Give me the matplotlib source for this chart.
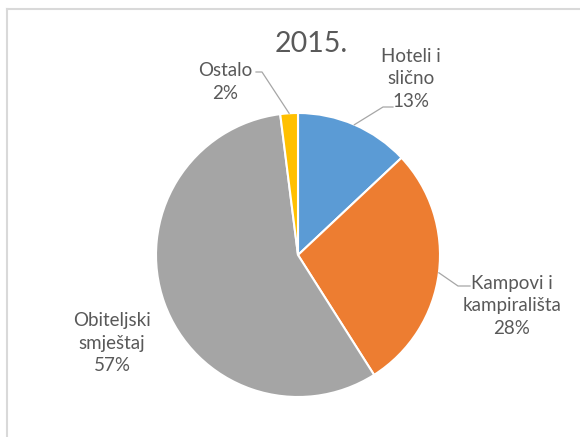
import numpy as np
import matplotlib
matplotlib.use("Agg")
import matplotlib.pyplot as plt
from matplotlib.lines import Line2D

# dados do gráfico
labels = ["Hoteli i\nslično", "Kampovi i\nkampirališta", "Obiteljski\nsmještaj", "Ostalo"]
values = [13, 28, 57, 2]
colors = ["#5B9BD5", "#ED7D31", "#A5A5A5", "#FFC000"]
title = "2015."

W, H = 580, 437
cx, cy, R = 298, 255, 142   # centro e raio da pizza em pixels

plt.rcParams["font.family"] = ["Lato", "DejaVu Sans"]
txt_color = "#595959"

fig = plt.figure(figsize=(W / 100, H / 100), dpi=100)
ax = fig.add_axes([0, 0, 1, 1])

wedges, _ = ax.pie(values, colors=colors, startangle=90, counterclock=False,
                   wedgeprops=dict(edgecolor="white", linewidth=1.5))

ax.set_aspect("auto")
ax.set_xlim(-cx / R, (W - cx) / R)
ax.set_ylim(-(H - cy) / R, cy / R)
ax.axis("off")


def px(x, y):
    # pixel (origem em cima à esquerda) -> coordenadas do eixo
    return (x - cx) / R, (cy - y) / R


# posição dos rótulos (pixels) e cotovelo da linha guia
label_pos = [(411, 79), (512, 306), (112, 343), (225, 82)]
elbows = [((383, 107), (393, 107)), ((458, 286), (470, 286)), None, ((262, 72), (256, 72))]

total = sum(values)
for w, lab, v, pos, elb in zip(wedges, labels, values, label_pos, elbows):
    tx, ty = px(*pos)
    ax.text(tx, ty, "%s\n%d%%" % (lab, round(100 * v / total)), ha="center", va="center",
            fontsize=13.5, color=txt_color, linespacing=1.38)
    if elb is not None:
        ang = np.deg2rad((w.theta1 + w.theta2) / 2)
        p0 = (np.cos(ang), np.sin(ang))
        p1 = px(*elb[0])
        p2 = px(*elb[1])
        ax.plot([p0[0], p1[0], p2[0]], [p0[1], p1[1], p2[1]], color="#a6a6a6", lw=0.9)

tx, ty = px(311, 44)
ax.text(tx, ty, title, ha="center", va="center", fontsize=20.5, color=txt_color)

# moldura cinza clara
fig.add_artist(Line2D([7 / W, 7 / W], [0, 1 - 9 / H], color="#d9d9d9", lw=1.5))
fig.add_artist(Line2D([7 / W, 1], [1 - 9 / H, 1 - 9 / H], color="#d9d9d9", lw=1.5))

fig.savefig("out.png", dpi=100)
